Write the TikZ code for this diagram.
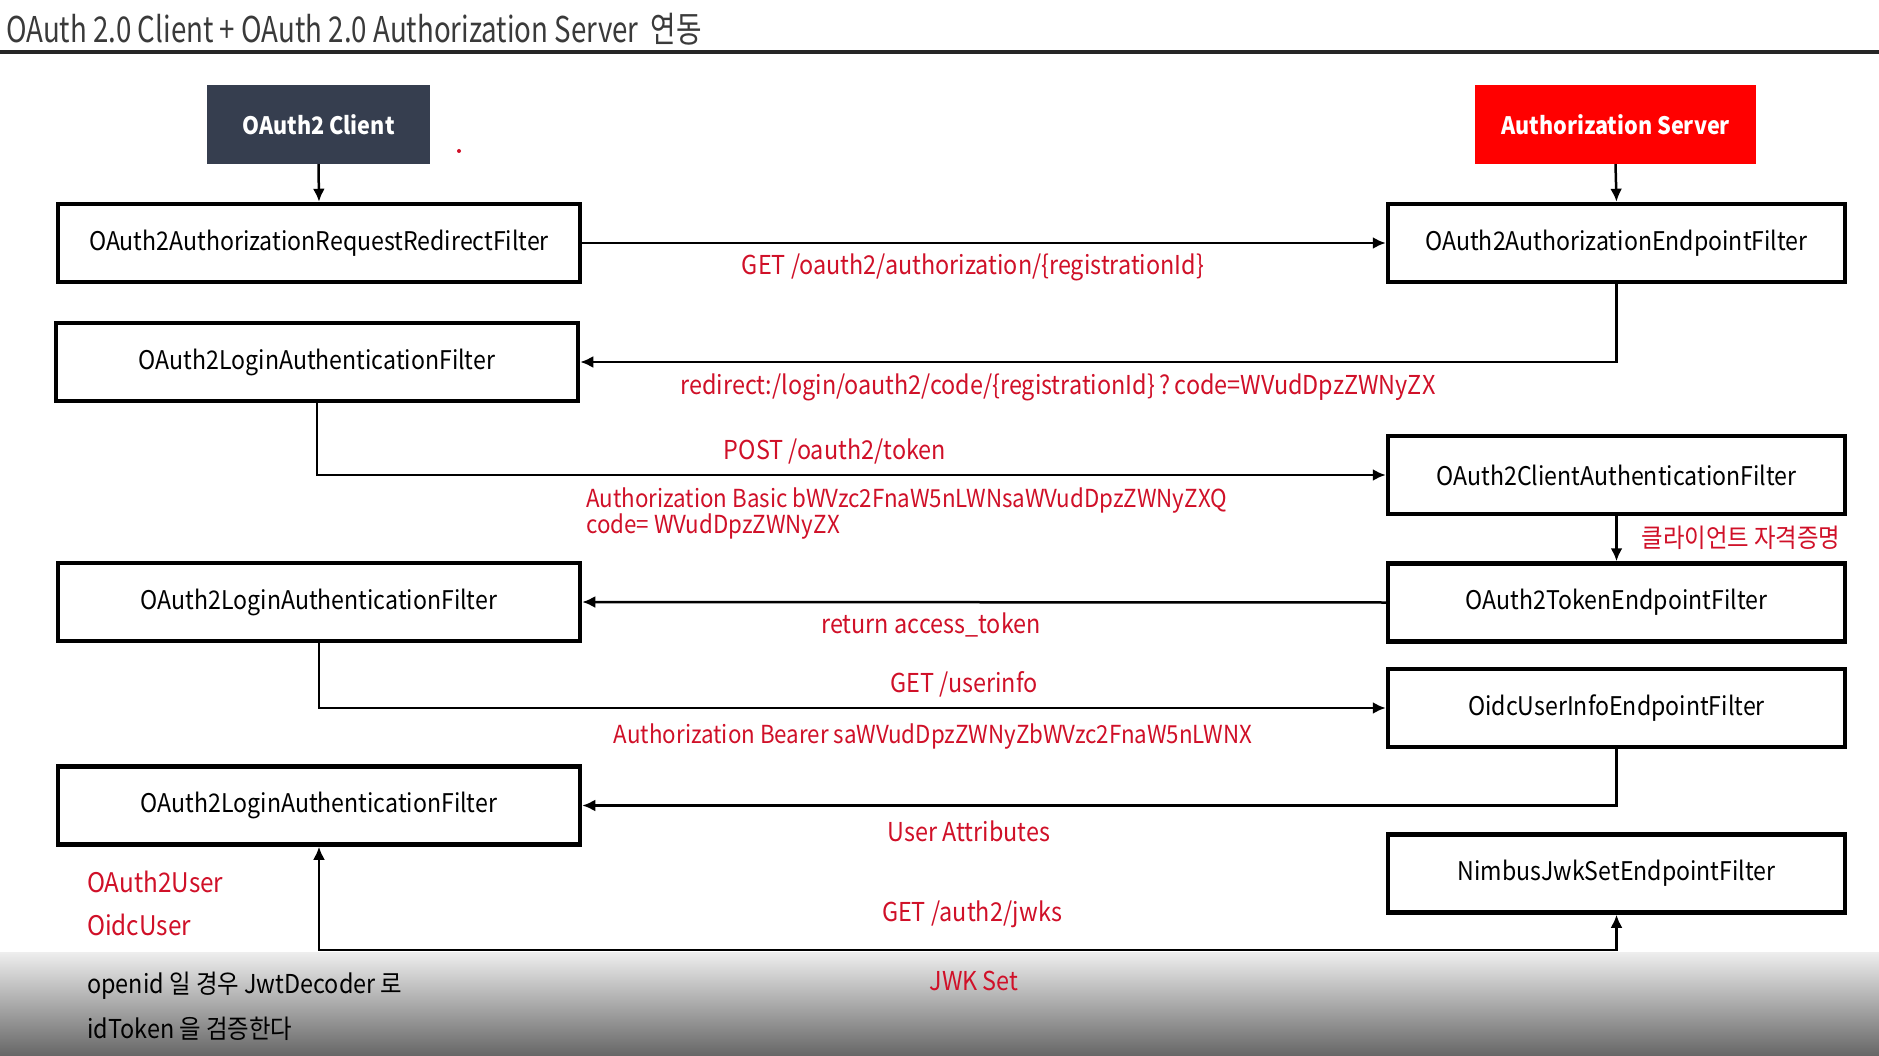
\documentclass[tikz,border=0pt]{standalone}
\usepackage{fontspec}
\setmainfont{Noto Sans CJK KR}
\newfontfamily\nar[FakeStretch=0.9]{Noto Sans CJK KR}
\newfontfamily\ttlfont[FakeStretch=0.78]{Noto Sans CJK KR}
\usetikzlibrary{arrows.meta}
\definecolor{lbl}{RGB}{208,16,40}
\definecolor{navy}{RGB}{54,62,79}
\definecolor{asred}{RGB}{255,0,0}
\definecolor{ttl}{RGB}{58,58,58}
\definecolor{gtop}{RGB}{238,238,238}
\definecolor{gbot}{RGB}{102,102,102}
\begin{document}
\begin{tikzpicture}[x=1pt,y=-1pt,
  fbox/.style={draw=black, line width=4.5pt, fill=white, inner sep=0pt,
    font=\nar\fontsize{25.7}{30}\selectfont},
  lbox/.style={fbox, minimum width=522pt, minimum height=78pt},
  rbox/.style={fbox, minimum width=457pt, minimum height=78pt},
  hbox/.style={inner sep=0pt, minimum width=223pt, minimum height=79pt, text=white,
    font=\nar\bfseries\fontsize{24}{28}\selectfont},
  conn/.style={line width=2.5pt, -{Latex[length=13pt,width=12pt]}},
  both/.style={line width=2.5pt, {Latex[length=13pt,width=12pt]}-{Latex[length=13pt,width=12pt]}},
  lab/.style={text=lbl, inner sep=0pt, font=\nar\fontsize{26}{30}\selectfont},
  labw/.style={lab, anchor=west},
  small/.style={font=\nar\fontsize{24.8}{29}\selectfont},
  note/.style={text=black, inner sep=0pt, anchor=west, font=\nar\fontsize{26}{30}\selectfont}
]
\useasboundingbox (0,0) rectangle (1879,1056);
\fill[white] (0,0) rectangle (1879,1056);
\shade[top color=gtop, bottom color=gbot] (0,952) rectangle (1879,1056);

% title
\node[anchor=west, inner sep=0pt, text=ttl, font=\ttlfont\fontsize{35.5}{40}\selectfont] (title) at (6,29)
  {OAuth 2.0 Client + OAuth 2.0 Authorization Server\ \ 연동};
\draw[line width=3.5pt, black!85] (0,52) -- (1879,52);

% header boxes
\node[hbox, fill=navy] (cl) at (318.5,124.5) {OAuth2 Client};
\node[hbox, fill=asred, minimum width=281pt] (as) at (1615.5,124.5) {Authorization Server};
\fill[lbl] (459,151) circle (2pt);

% filter boxes
\node[lbox] (l1) at (319,243) {OAuth2AuthorizationRequestRedirectFilter};
\node[rbox] (r1) at (1616.5,243) {OAuth2AuthorizationEndpointFilter};
\node[lbox] (l2) at (317,362) {OAuth2LoginAuthenticationFilter};
\node[rbox] (r2) at (1616.5,475) {OAuth2ClientAuthenticationFilter};
\node[lbox] (l3) at (319,602) {OAuth2LoginAuthenticationFilter};
\node[rbox] (r3) at (1616.5,602.5) {OAuth2TokenEndpointFilter};
\node[rbox] (r4) at (1616.5,708) {OidcUserInfoEndpointFilter};
\node[lbox] (l4) at (319,805.5) {OAuth2LoginAuthenticationFilter};
\node[rbox] (r5) at (1616.5,873.5) {NimbusJwkSetEndpointFilter};
\coordinate (jw) at (1616.5,950);

% connectors
\draw[conn] (cl.south) -- (l1.north);
\draw[conn] (as.south) -- (r1.north);
\draw[conn] (l1.east) -- (r1.west);
\draw[conn] (r1.south) |- (l2.east);
\draw[conn] (l2.south) |- (r2.west);
\draw[conn] (r2.south) -- (r3.north);
\draw[conn] (r3.west) -- (l3.east);
\draw[conn] (l3.south) |- (r4.west);
\draw[conn] (r4.south) |- (l4.east);
\draw[both] (l4.south) |- (jw) -- (r5.south);

% labels
\node[lab] (t1) at (973,267) {GET /oauth2/authorization/\{registrationId\}};
\node[lab] (t2) at (1058,387) {redirect:/login/oauth2/code/\{registrationId\}\,?\,code=WVudDpzZWNyZX};
\node[lab] (t3) at (835,451) {POST /oauth2/token};
\node[labw, small] (t4) at (586,501) {Authorization Basic bWVzc2FnaW5nLWNsaWVudDpzZWNyZXQ};
\node[labw, small] (t5) at (586,527) {code= WVudDpzZWNyZX};
\node[lab] (t6) at (1741,538) {클라이언트 자격증명};
\node[lab] (t7) at (931,625) {return access\_token};
\node[lab] (t8) at (964,684) {GET /userinfo};
\node[lab, small] (t9) at (933,737) {Authorization Bearer saWVudDpzZWNyZbWVzc2FnaW5nLWNX};
\node[lab] (t10) at (969,831) {User Attributes};
\node[lab] (t11) at (972,914) {GET /auth2/jwks};
\node[lab] (t12) at (974,981) {JWK Set};
\node[labw, font=\nar\fontsize{27}{31}\selectfont] (u1) at (87,882) {OAuth2User};
\node[labw, font=\nar\fontsize{27}{31}\selectfont] (u2) at (87,925) {OidcUser};
\node[note] (n1) at (87,986) {openid 일 경우 JwtDecoder 로};
\node[note] (n2) at (87,1029) {idToken 을 검증한다};
\end{tikzpicture}
\end{document}
